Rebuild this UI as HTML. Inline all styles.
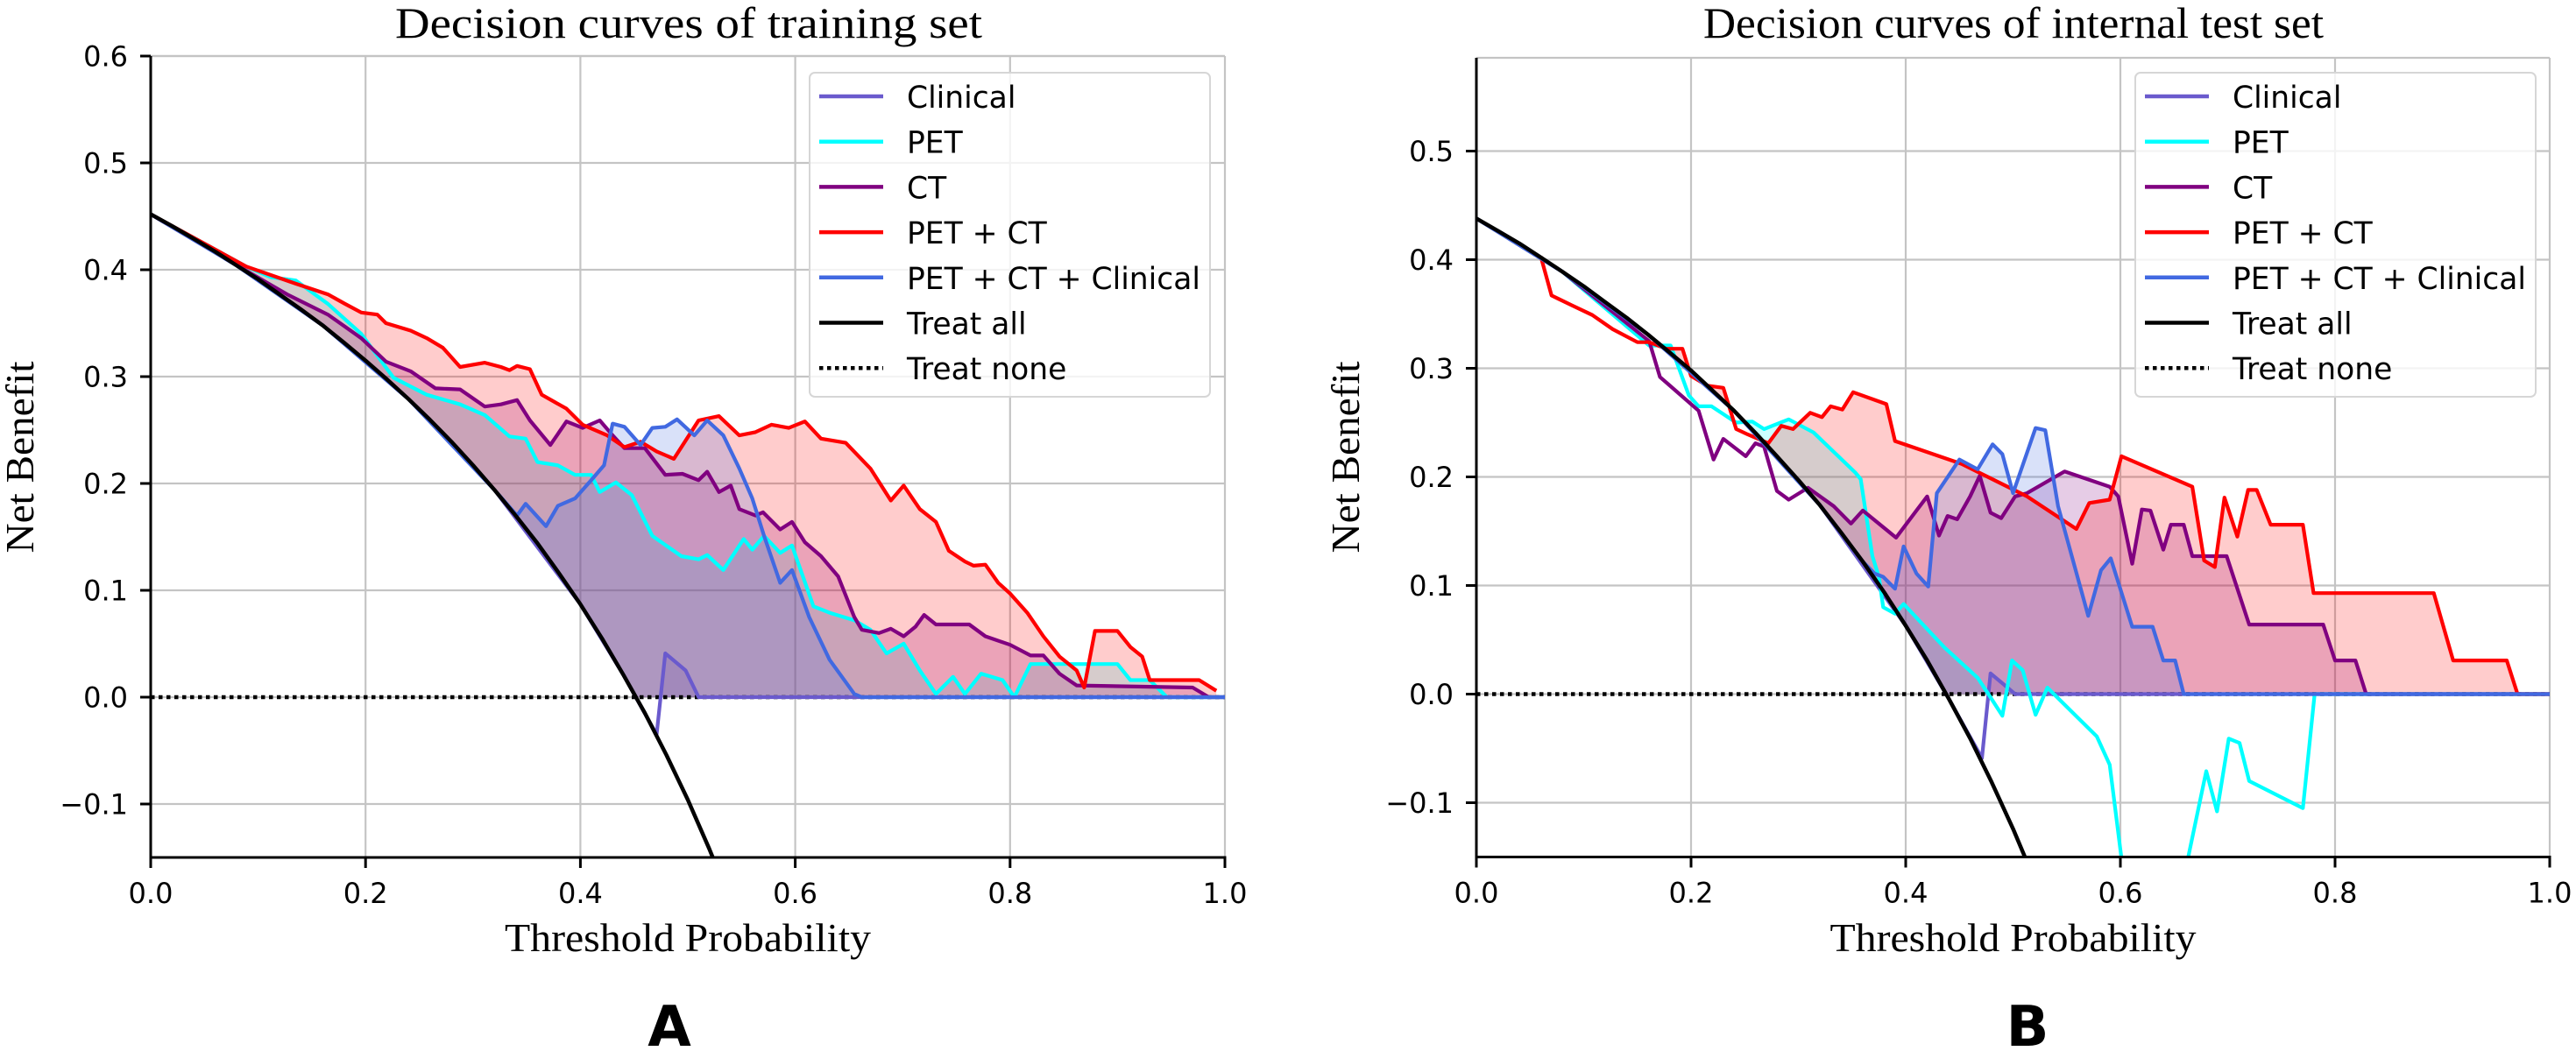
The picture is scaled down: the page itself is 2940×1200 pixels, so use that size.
<!DOCTYPE html>
<html><head><meta charset="utf-8"><style>
html,body{margin:0;padding:0;background:#fff;}
svg{display:block;}
</style></head><body>
<svg id="fig" width="2940" height="1200" viewBox="0 0 2940 1200" xmlns="http://www.w3.org/2000/svg"></svg>
<script>
// ---------- DATA (Panel A: training set) ----------
const aTreatAllT = [0,0.02,0.04,0.06,0.08,0.10,0.12,0.14,0.16,0.18,0.20,0.22,0.24,0.26,0.28,0.30,0.32,0.34,0.36,0.38,0.40,0.42,0.44,0.46,0.48,0.50,0.52,0.54,0.56];
const aTreatAllV = [0.452,0.4408,0.429,0.417,0.404,0.3911,0.377,0.3628,0.348,0.3317,0.315,0.2974,0.279,0.2595,0.239,0.2171,0.194,0.1697,0.144,0.1161,0.087,0.0552,0.021,-0.0148,-0.054,-0.096,-0.142,-0.1913,-0.2455];
const aClinicalT = [0,0.08,0.16,0.24,0.32,0.40,0.44,0.471,0.479,0.498,0.510,1.0];
const aClinicalV = [0.452,0.404,0.348,0.279,0.194,0.087,0.021,-0.035,0.041,0.025,0,0];
const aPetT = [0,0.089,0.112,0.135,0.165,0.196,0.226,0.257,0.288,0.311,0.334,0.349,0.360,0.379,0.395,0.410,0.418,0.433,0.448,0.467,0.494,0.510,0.518,0.533,0.552,0.560,0.571,0.586,0.597,0.617,0.632,0.655,0.670,0.685,0.701,0.716,0.731,0.747,0.758,0.773,0.793,0.804,0.819,0.846,0.900,0.912,0.930,0.946,1.0];
const aPetV = [0.452,0.403,0.393,0.390,0.368,0.340,0.299,0.283,0.274,0.264,0.244,0.242,0.220,0.217,0.208,0.208,0.192,0.201,0.189,0.151,0.132,0.129,0.133,0.119,0.148,0.138,0.151,0.135,0.142,0.085,0.079,0.072,0.063,0.041,0.050,0.025,0.003,0.019,0.003,0.022,0.016,0,0.031,0.031,0.031,0.016,0.016,0,0];
const aCtT = [0,0.089,0.127,0.165,0.196,0.219,0.242,0.265,0.288,0.311,0.326,0.341,0.353,0.372,0.387,0.402,0.418,0.430,0.441,0.460,0.479,0.495,0.510,0.518,0.529,0.540,0.548,0.563,0.570,0.586,0.597,0.609,0.624,0.640,0.655,0.662,0.678,0.689,0.701,0.712,0.720,0.731,0.762,0.777,0.800,0.819,0.831,0.846,0.862,0.970,0.985,1.0];
const aCtV = [0.452,0.399,0.377,0.358,0.336,0.314,0.305,0.289,0.288,0.272,0.274,0.278,0.259,0.236,0.258,0.252,0.259,0.245,0.233,0.233,0.208,0.209,0.203,0.211,0.192,0.198,0.176,0.170,0.173,0.157,0.164,0.145,0.132,0.113,0.075,0.063,0.060,0.064,0.057,0.066,0.077,0.068,0.068,0.057,0.049,0.039,0.039,0.022,0.011,0.009,0,0];
const aPetCtT = [0,0.089,0.135,0.165,0.181,0.196,0.211,0.219,0.242,0.257,0.272,0.288,0.311,0.326,0.334,0.341,0.353,0.364,0.387,0.402,0.425,0.441,0.456,0.471,0.487,0.510,0.529,0.548,0.563,0.578,0.594,0.609,0.624,0.647,0.670,0.689,0.701,0.716,0.731,0.743,0.758,0.766,0.777,0.789,0.800,0.816,0.831,0.846,0.862,0.869,0.879,0.900,0.912,0.923,0.930,0.976,0.992];
const aPetCtV = [0.452,0.403,0.387,0.377,0.368,0.360,0.358,0.350,0.343,0.336,0.327,0.309,0.313,0.309,0.306,0.310,0.307,0.283,0.270,0.255,0.245,0.234,0.239,0.230,0.223,0.259,0.263,0.245,0.248,0.255,0.252,0.258,0.242,0.238,0.214,0.184,0.198,0.176,0.164,0.137,0.127,0.123,0.124,0.107,0.097,0.079,0.057,0.038,0.025,0.009,0.062,0.062,0.047,0.038,0.016,0.016,0.006];
const aAllT = [0,0.08,0.16,0.24,0.32,0.341,0.349,0.368,0.379,0.395,0.410,0.422,0.430,0.441,0.456,0.467,0.479,0.490,0.506,0.518,0.533,0.548,0.560,0.571,0.586,0.597,0.613,0.632,0.655,0.662,1.0];
const aAllV = [0.452,0.404,0.348,0.279,0.194,0.170,0.181,0.160,0.179,0.186,0.203,0.217,0.256,0.253,0.236,0.252,0.253,0.260,0.245,0.259,0.245,0.214,0.186,0.151,0.107,0.119,0.075,0.035,0.003,0,0];

// ---------- DATA (Panel B: internal test set) ----------
const bTreatAllT = [0,0.02,0.04,0.06,0.08,0.10,0.12,0.14,0.16,0.18,0.20,0.22,0.24,0.26,0.28,0.30,0.32,0.34,0.36,0.38,0.40,0.42,0.44,0.46,0.48,0.50,0.52,0.54,0.56];
const bTreatAllV = [0.438,0.4265,0.415,0.4021,0.389,0.3756,0.361,0.3465,0.331,0.3146,0.298,0.2795,0.261,0.2405,0.219,0.1971,0.174,0.1485,0.122,0.0936,0.063,0.031,-0.004,-0.0407,-0.081,-0.124,-0.171,-0.2217,-0.277];
const bClinicalT = [0,0.08,0.16,0.24,0.32,0.40,0.44,0.471,0.479,0.490,0.502,1.0];
const bClinicalV = [0.438,0.389,0.331,0.261,0.174,0.063,-0.004,-0.059,0.019,0.010,0,0];
const bPetT = [0,0.08,0.161,0.181,0.198,0.207,0.219,0.242,0.257,0.268,0.291,0.314,0.353,0.358,0.369,0.375,0.379,0.390,0.398,0.436,0.467,0.479,0.490,0.499,0.509,0.521,0.532,0.578,0.590,0.601,0.625,0.650,0.663,0.680,0.690,0.701,0.711,0.720,0.770,0.781,1.0];
const bPetV = [0.438,0.389,0.321,0.321,0.275,0.265,0.265,0.250,0.251,0.244,0.253,0.241,0.204,0.198,0.127,0.108,0.080,0.074,0.083,0.043,0.015,-0.003,-0.020,0.031,0.022,-0.019,0.006,-0.039,-0.065,-0.151,-0.30,-0.30,-0.151,-0.071,-0.108,-0.041,-0.045,-0.080,-0.105,0,0];
const bCtT = [0,0.08,0.161,0.171,0.207,0.221,0.230,0.251,0.260,0.268,0.280,0.291,0.309,0.333,0.349,0.360,0.391,0.410,0.420,0.431,0.439,0.448,0.460,0.469,0.479,0.489,0.502,0.513,0.548,0.590,0.598,0.611,0.620,0.628,0.640,0.647,0.659,0.667,0.699,0.720,0.789,0.800,0.819,0.829,1.0];
const bCtV = [0.438,0.389,0.325,0.292,0.261,0.216,0.235,0.219,0.231,0.228,0.187,0.179,0.190,0.173,0.157,0.169,0.144,0.169,0.182,0.146,0.164,0.161,0.182,0.201,0.167,0.162,0.182,0.185,0.205,0.191,0.182,0.120,0.170,0.169,0.133,0.156,0.156,0.127,0.127,0.064,0.064,0.031,0.031,0,0];
const bPetCtT = [0.060,0.070,0.089,0.108,0.127,0.150,0.161,0.177,0.192,0.200,0.215,0.230,0.242,0.253,0.272,0.284,0.295,0.311,0.322,0.330,0.341,0.351,0.382,0.390,0.452,0.513,0.559,0.571,0.590,0.601,0.667,0.678,0.688,0.697,0.709,0.719,0.727,0.740,0.770,0.780,0.892,0.910,0.960,0.970,1.0];
const bPetCtV = [0.403,0.367,0.358,0.349,0.336,0.324,0.324,0.318,0.318,0.293,0.284,0.282,0.244,0.239,0.231,0.247,0.244,0.259,0.255,0.265,0.262,0.278,0.267,0.233,0.212,0.182,0.152,0.176,0.179,0.219,0.191,0.123,0.117,0.181,0.145,0.188,0.188,0.156,0.156,0.093,0.093,0.031,0.031,0,0];
const bAllT = [0,0.08,0.16,0.24,0.32,0.36,0.371,0.379,0.390,0.398,0.410,0.421,0.429,0.450,0.467,0.481,0.490,0.500,0.521,0.530,0.542,0.570,0.582,0.591,0.611,0.630,0.640,0.651,0.659,1.0];
const bAllV = [0.438,0.389,0.331,0.261,0.174,0.122,0.111,0.108,0.097,0.136,0.111,0.099,0.185,0.216,0.207,0.230,0.221,0.185,0.245,0.243,0.173,0.072,0.114,0.125,0.062,0.062,0.031,0.031,0,0];

const aYTicks = [-0.1,0.0,0.1,0.2,0.3,0.4,0.5,0.6];
const aYTickLabels = ['\u22120.1','0.0','0.1','0.2','0.3','0.4','0.5','0.6'];
const bYTicks = [-0.1,0.0,0.1,0.2,0.3,0.4,0.5];
const bYTickLabels = ['\u22120.1','0.0','0.1','0.2','0.3','0.4','0.5'];
const xTicks = [0,0.2,0.4,0.6,0.8,1.0];
const xTickLabels = ['0.0','0.2','0.4','0.6','0.8','1.0'];
const seriesNames = ['Clinical','PET','CT','PET + CT','PET + CT + Clinical','Treat all','Treat none'];

// ---------- RENDER ----------
const NS = 'http://www.w3.org/2000/svg';
const svg = document.getElementById('fig');
const COLORS = ['#6a5acd','#00ffff','#800080','#ff0000','#4169e1'];

function mk(tag, attrs, parent){
  const e = document.createElementNS(NS, tag);
  for (const k in attrs) e.setAttribute(k, attrs[k]);
  (parent||svg).appendChild(e);
  return e;
}
function interp(T, V, t){
  if (t <= T[0]) return V[0];
  if (t >= T[T.length-1]) return V[V.length-1];
  for (let i=1;i<T.length;i++){
    if (t <= T[i]){ const f=(t-T[i-1])/(T[i]-T[i-1]); return V[i-1]+f*(V[i]-V[i-1]); }
  }
  return V[V.length-1];
}

function panel(cfg){
  const g = mk('g', {});
  
  
  const X = v => cfg.x0 + v*(cfg.x1-cfg.x0);
  const Y = v => cfg.yZero - v*cfg.yUnit;
  const top = cfg.top, bottom = Y(-0.15);
  const clipId = cfg.name + '-clip';
  const defs = mk('defs', {}, g);
  const cp = mk('clipPath', {id: clipId}, defs);
  mk('rect', {x: cfg.x0, y: top, width: cfg.x1-cfg.x0, height: bottom-top}, cp);

  const grid = mk('g', {}, g);
  
  
  xTicks.forEach(t => {
    if (t===0) return;
    mk('line', {x1: X(t), x2: X(t), y1: top, y2: bottom, stroke:'#c4c4c4', 'stroke-width':2.2}, grid);
  });
  cfg.yTicks.forEach(v => {
    mk('line', {x1: cfg.x0, x2: cfg.x1, y1: Y(v), y2: Y(v), stroke:'#c4c4c4', 'stroke-width':2.2}, grid);
  });
  mk('line', {x1: cfg.x0, x2: cfg.x1, y1: top, y2: top, stroke:'#c4c4c4', 'stroke-width':2.2}, grid);

  const plot = mk('g', {'clip-path': 'url(#'+clipId+')'}, g);
  const TA_T = cfg.taT, TA_V = cfg.taV;
  const base = t => Math.max(interp(TA_T, TA_V, t), 0);

  cfg.series.forEach((s, i) => {
    const tMin = s.T[0], tMax = s.T[s.T.length-1];
    let up = [], lo = [];
    for (let t = tMin; t <= tMax + 1e-9; t += 0.002) {
      const b = base(t), v = interp(s.T, s.V, t);
      up.push(X(t).toFixed(1)+','+Y(Math.max(v,b)).toFixed(1));
      lo.push(X(t).toFixed(1)+','+Y(b).toFixed(1));
    }
    const f = mk('polygon', {points: up.concat(lo.reverse()).join(' '), fill: COLORS[i], 'fill-opacity': 0.2, stroke:'none'}, plot);
    
    
  });
  const tn = mk('line', {x1: X(0), x2: X(1), y1: Y(0), y2: Y(0), stroke:'#000', 'stroke-width':4.5, 'stroke-dasharray':'4.5 4.5'}, plot);
  
  
  cfg.series.forEach((s, i) => {
    const pts = s.T.map((t,k) => X(t).toFixed(1)+','+Y(s.V[k]).toFixed(1)).join(' ');
    const l = mk('polyline', {points: pts, fill:'none', stroke: COLORS[i], 'stroke-width':4.2, 'stroke-linejoin':'round'}, plot);
    
    
  });
  const taPts = TA_T.map((t,k) => X(t).toFixed(1)+','+Y(TA_V[k]).toFixed(1)).join(' ');
  const ta = mk('polyline', {points: taPts, fill:'none', stroke:'#000', 'stroke-width':4.5, 'stroke-linejoin':'round'}, plot);
  
  

  mk('line', {x1: cfg.x0, x2: cfg.x0, y1: top, y2: bottom+1.5, stroke:'#000', 'stroke-width':3}, g);
  mk('line', {x1: cfg.x0-1.5, x2: cfg.x1+1.5, y1: bottom, y2: bottom, stroke:'#000', 'stroke-width':3}, g);

  xTicks.forEach((t, k) => {
    mk('line', {x1: X(t), x2: X(t), y1: bottom, y2: bottom+12, stroke:'#000', 'stroke-width':3}, g);
    const tx = mk('text', {x: X(t), y: bottom+52, 'text-anchor':'middle', 'font-family':'"DejaVu Sans", sans-serif', 'font-size':32, fill:'#000'}, g);
    tx.textContent = xTickLabels[k];
    
    
  });
  cfg.yTicks.forEach((v, k) => {
    mk('line', {x1: cfg.x0-12, x2: cfg.x0, y1: Y(v), y2: Y(v), stroke:'#000', 'stroke-width':3}, g);
    const tx = mk('text', {x: cfg.x0-26, y: Y(v)+11.5, 'text-anchor':'end', 'font-family':'"DejaVu Sans", sans-serif', 'font-size':32, fill:'#000'}, g);
    tx.textContent = cfg.yTickLabels[k];
    
    
  });

  const title = mk('text', {x: cfg.titleX, y: 43, 'text-anchor':'middle', 'font-family':'"Liberation Serif", serif', 'font-size':50, textLength: cfg.titleW, lengthAdjust:'spacingAndGlyphs'}, g);
  title.textContent = cfg.title;
  
  
  const xl = mk('text', {x: (cfg.x0+cfg.x1)/2, y: 1086, 'text-anchor':'middle', 'font-family':'"Liberation Serif", serif', 'font-size':46, textLength: 418, lengthAdjust:'spacingAndGlyphs'}, g);
  xl.textContent = 'Threshold Probability';
  
  
  const yl = mk('text', {x: 0, y: 0, 'text-anchor':'middle', 'font-family':'"Liberation Serif", serif', 'font-size':46, textLength: 219, lengthAdjust:'spacingAndGlyphs', transform:'translate('+cfg.yLabelX+',522) rotate(-90)'}, g);
  yl.textContent = 'Net Benefit';
  
  
  const letter = mk('text', {x: cfg.letterX, y: 1194, 'text-anchor':'middle', 'font-family':'"DejaVu Sans", sans-serif', 'font-weight':'bold', 'font-size':64}, g);
  letter.textContent = cfg.letter;
  
  

  const lg = mk('g', {}, g);
  
  
  mk('rect', {x: cfg.legX, y: 83, width: 457, height: 370, rx: 6, fill:'#fff', 'fill-opacity':0.8, stroke:'#d6d6d6', 'stroke-width':2}, lg);
  const legColors = COLORS.concat(['#000','#000']);
  seriesNames.forEach((nm, k) => {
    const yy = 110 + k*51.7;
    const entry = mk('g', {}, lg);
    
    
    const ln = mk('line', {x1: cfg.legX+11, x2: cfg.legX+84, y1: yy, y2: yy, stroke: legColors[k], 'stroke-width':4.5}, entry);
    if (k===6) { ln.setAttribute('stroke-dasharray','4.5 4.5'); }
    const tx = mk('text', {x: cfg.legX+111, y: yy+13, 'font-family':'"DejaVu Sans", sans-serif', 'font-size':34.5, fill:'#000'}, entry);
    tx.textContent = nm;
  });
}

const keys = ['clinical','pet','ct','pet-ct','pet-ct-clinical'];
panel({name:'panel-a-training', x0:172, x1:1398, yZero:796, yUnit:1220, top:64,
  yTicks:aYTicks, yTickLabels:aYTickLabels, taT:aTreatAllT, taV:aTreatAllV,
  series:[{T:aClinicalT,V:aClinicalV},{T:aPetT,V:aPetV},{T:aCtT,V:aCtV},{T:aPetCtT,V:aPetCtV},{T:aAllT,V:aAllV}].map((s,i)=>Object.assign(s,{key:keys[i]})),
  title:'Decision curves of training set', titleX:786, titleW:670, yLabelX:38, letterX:764, letter:'A', legX:924});
panel({name:'panel-b-internal-test', x0:1685, x1:2910, yZero:792.5, yUnit:1240, top:66,
  yTicks:bYTicks, yTickLabels:bYTickLabels, taT:bTreatAllT, taV:bTreatAllV,
  series:[{T:bClinicalT,V:bClinicalV},{T:bPetT,V:bPetV},{T:bCtT,V:bCtV},{T:bPetCtT,V:bPetCtV},{T:bAllT,V:bAllV}].map((s,i)=>Object.assign(s,{key:keys[i]})),
  title:'Decision curves of internal test set', titleX:2298, titleW:708, yLabelX:1551, letterX:2314, letter:'B', legX:2437});
</script>
</body></html>
